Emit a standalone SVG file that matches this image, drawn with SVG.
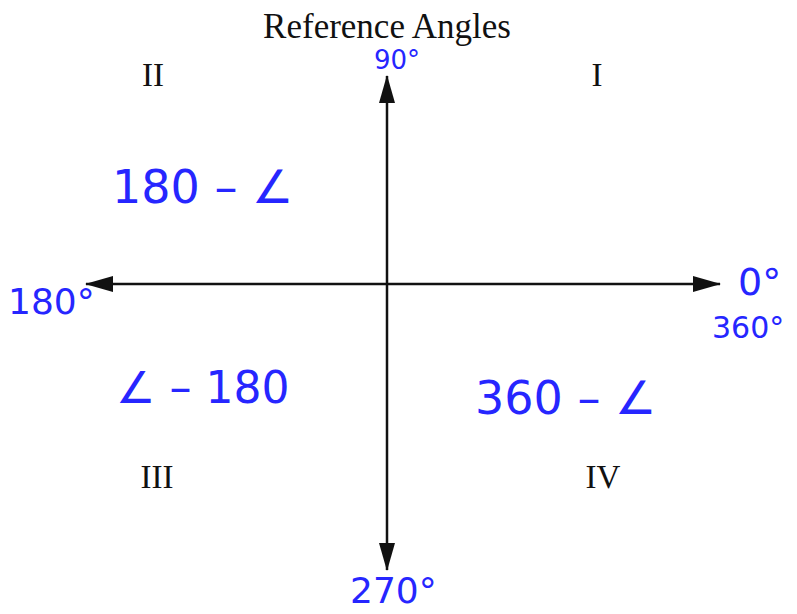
<svg xmlns="http://www.w3.org/2000/svg" width="797" height="614" viewBox="0 0 797 614">
<style>
.t{font-family:"Liberation Serif","Times New Roman",serif;fill:#111;font-size:33px;text-anchor:middle}
.h{font-family:"DejaVu Sans","Liberation Sans",sans-serif;fill:#2626ff}
.ax{stroke:#111;stroke-width:2.5;fill:none}
</style>
<defs>
<marker id="ah" viewBox="0 0 28 16" refX="27" refY="8" markerWidth="28" markerHeight="16" markerUnits="userSpaceOnUse" orient="auto">
<path d="M0,0 L28,8 L0,16 z" fill="#111"/>
</marker>
</defs>
<rect width="797" height="614" fill="#fff"/>
<g id="connectors">
<line class="ax" x1="387" y1="284" x2="720" y2="284" marker-end="url(#ah)"/>
<line class="ax" x1="387" y1="284" x2="86" y2="284" marker-end="url(#ah)"/>
<line class="ax" x1="387" y1="284" x2="387" y2="76" marker-end="url(#ah)"/>
<line class="ax" x1="387" y1="284" x2="387" y2="570" marker-end="url(#ah)"/>
</g>
<g id="title"><text class="t" x="387" y="38" style="font-size:35px">Reference Angles</text></g>
<g id="q1"><text class="t" x="597" y="86">I</text></g>
<g id="q2"><text class="t" x="153" y="86">II</text></g>
<g id="q3"><text class="t" x="157" y="488">III</text></g>
<g id="q4"><text class="t" x="603" y="488">IV</text></g>
<g id="l90"><text class="h" x="374" y="69" font-size="26">90°</text></g>
<g id="l180"><text class="h" x="8" y="314" font-size="36">180°</text></g>
<g id="l0"><text class="h" x="738" y="295" font-size="38">0°</text></g>
<g id="l360"><text class="h" x="712" y="338" font-size="30">360°</text></g>
<g id="l270"><text class="h" x="350" y="603" font-size="36">270°</text></g>
<g id="f2"><text class="h" x="112" y="203" font-size="46">180 – ∠</text></g>
<g id="f3"><text class="h" x="116" y="403" font-size="44">∠ – 180</text></g>
<g id="f4"><text class="h" x="475" y="414" font-size="46">360 – ∠</text></g>
</svg>
